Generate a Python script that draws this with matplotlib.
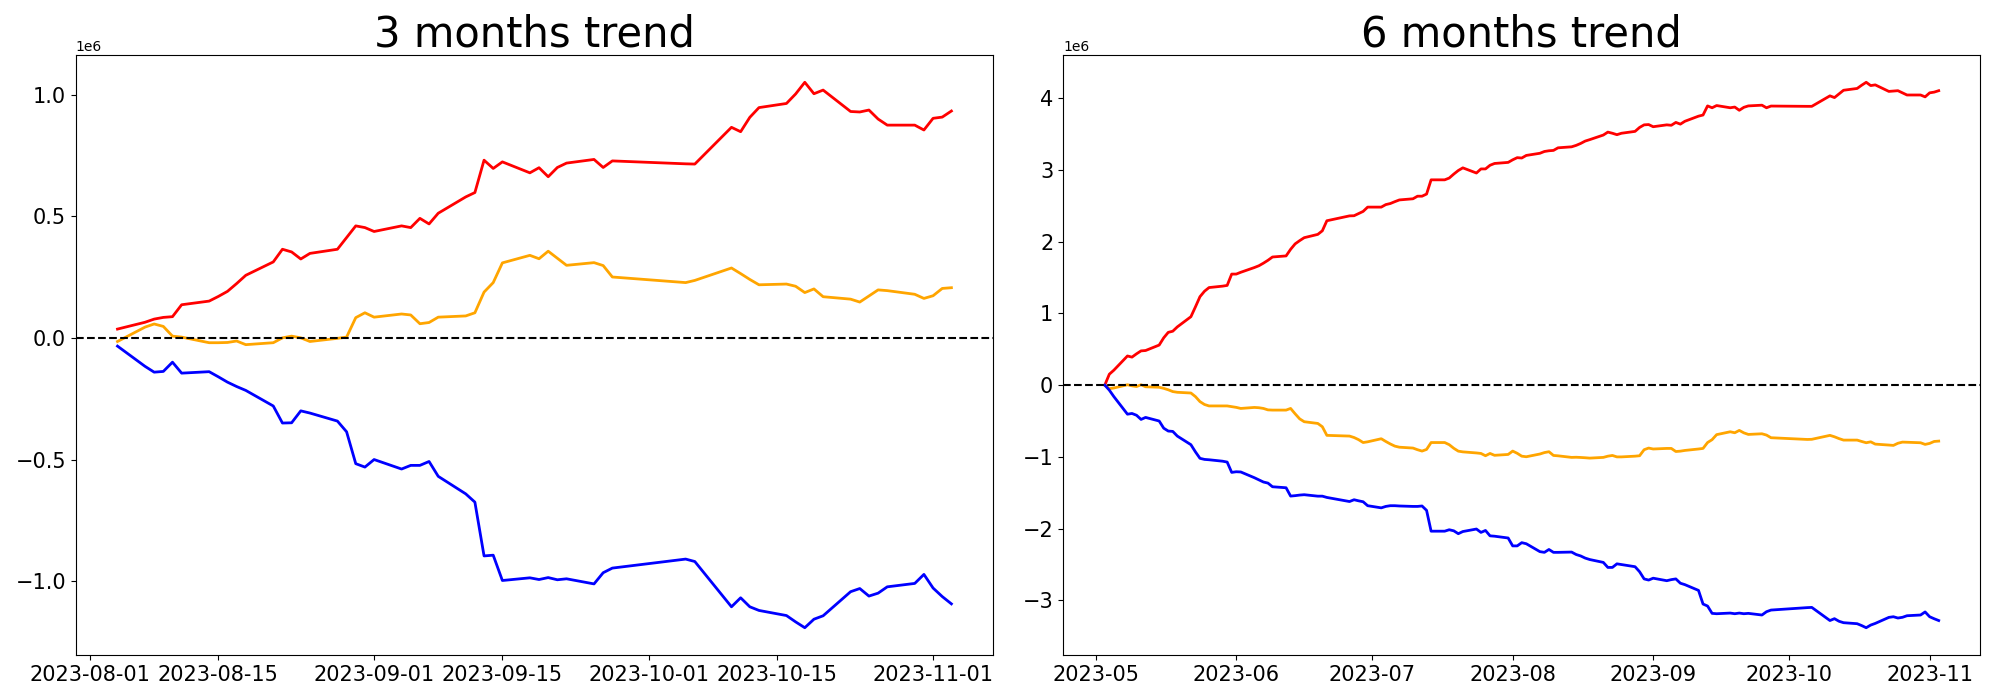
import matplotlib.pyplot as plt
import pandas as pd
import numpy as np

# ===============================
# trading days with missing dates (holiday breaks)
skip_days = pd.to_datetime(['2023-06-22', '2023-06-23', '2023-09-28', '2023-09-29',
                            '2023-10-02', '2023-10-03', '2023-10-04', '2023-10-09'])
dates_3m = pd.bdate_range('2023-08-04', '2023-11-03').drop(skip_days, errors='ignore')
dates_6m = pd.bdate_range('2023-05-03', '2023-11-03').drop(skip_days, errors='ignore')

# values in 1e6
red_3m = [0.037, 0.065, 0.078, 0.085, 0.088, 0.137,
          0.152, 0.171, 0.192, 0.224, 0.258,
          0.313, 0.365, 0.354, 0.325, 0.348,
          0.365, 0.413, 0.461, 0.454,
          0.438,
          0.461, 0.454, 0.492, 0.469, 0.513,
          0.580, 0.598, 0.731, 0.697, 0.724,
          0.679, 0.700, 0.663, 0.701, 0.719,
          0.734, 0.701, 0.728,
          0.716, 0.715,
          0.866, 0.848, 0.907, 0.947,
          0.964, 1.003, 1.051, 1.004, 1.019,
          0.931, 0.929, 0.937, 0.900, 0.875,
          0.875, 0.855,
          0.903, 0.908, 0.933]
orange_3m = [-0.014, 0.045, 0.058, 0.048, 0.008, 0.004,
             -0.019, -0.019, -0.018, -0.012, -0.027,
             -0.019, 0.001, 0.008, 0.001, -0.014,
             -0.001, 0.004, 0.084, 0.104,
             0.086,
             0.099, 0.095, 0.059, 0.064, 0.086,
             0.091, 0.104, 0.189, 0.228, 0.309,
             0.340, 0.326, 0.357, 0.328, 0.299,
             0.310, 0.298, 0.251,
             0.228, 0.237,
             0.288, 0.265, 0.241, 0.219,
             0.222, 0.213, 0.187, 0.202, 0.170,
             0.160, 0.148, 0.173, 0.198, 0.195,
             0.180, 0.163,
             0.174, 0.204, 0.207]
blue_3m = [-0.033, -0.116, -0.140, -0.137, -0.099, -0.144,
           -0.138, -0.159, -0.181, -0.199, -0.215,
           -0.279, -0.349, -0.348, -0.299, -0.308,
           -0.341, -0.385, -0.516, -0.530,
           -0.499,
           -0.538, -0.523, -0.523, -0.507, -0.568,
           -0.640, -0.674, -0.895, -0.892, -0.996,
           -0.985, -0.992, -0.984, -0.993, -0.989,
           -1.010, -0.964, -0.945,
           -0.908, -0.918,
           -1.104, -1.067, -1.104, -1.119,
           -1.140, -1.166, -1.190, -1.155, -1.141,
           -1.042, -1.029, -1.060, -1.048, -1.022,
           -1.008, -0.971,
           -1.027, -1.062, -1.092]

red_6m = [0.0, 0.152, 0.208, 0.406, 0.390, 0.436, 0.477, 0.482, 0.558, 0.659, 0.735,
          0.751, 0.811, 0.953, 1.090, 1.232, 1.308, 1.359, 1.379, 1.389, 1.547,
          1.547, 1.572, 1.638, 1.663, 1.699, 1.739, 1.785, 1.800, 1.892, 1.968,
          2.013, 2.054, 2.100, 2.150, 2.290, 2.358, 2.360, 2.390, 2.420, 2.480,
          2.480, 2.515, 2.530, 2.556, 2.580, 2.596, 2.632, 2.632, 2.662, 2.860,
          2.860, 2.885, 2.940, 2.990, 3.027, 2.955, 3.012, 3.012, 3.063, 3.088, 3.103,
          3.139, 3.169, 3.164, 3.200, 3.230, 3.255, 3.265, 3.270, 3.306, 3.320, 3.340,
          3.367, 3.400, 3.420, 3.484, 3.525, 3.509, 3.489, 3.509, 3.535, 3.590, 3.626, 3.630,
          3.600, 3.626, 3.620, 3.660, 3.636, 3.676, 3.747, 3.763, 3.890, 3.864,
          3.895, 3.864, 3.874, 3.829, 3.870, 3.890, 3.900, 3.864, 3.888,
          3.884, 3.884, 4.030, 4.006, 4.057, 4.108, 4.133, 4.178, 4.219, 4.173,
          4.183, 4.092, 4.097, 4.102, 4.072, 4.042, 4.042, 4.016,
          4.072, 4.082, 4.102]
orange_6m = [0.0, -0.050, -0.040, 0.005, -0.010, -0.020, 0.005, -0.023, -0.030, -0.045, -0.065,
             -0.090, -0.100, -0.110, -0.160, -0.230, -0.270, -0.290, -0.290, -0.290, -0.300,
             -0.310, -0.325, -0.311, -0.315, -0.325, -0.345, -0.348, -0.348, -0.325, -0.400,
             -0.470, -0.510, -0.534, -0.580, -0.700, -0.710, -0.730, -0.760, -0.800, -0.790,
             -0.747, -0.785, -0.820, -0.850, -0.865, -0.877, -0.900, -0.919, -0.896, -0.800,
             -0.800, -0.830, -0.880, -0.920, -0.930, -0.945, -0.952, -0.984, -0.952, -0.978, -0.966,
             -0.919, -0.950, -0.990, -0.998, -0.960, -0.940, -0.928, -0.980, -0.985, -1.007, -1.005,
             -1.008, -1.012, -1.017, -1.007, -0.990, -0.980, -1.000, -1.000, -0.990, -0.984, -0.900, -0.877,
             -0.890, -0.882, -0.882, -0.925, -0.920, -0.910, -0.890, -0.882, -0.800, -0.760,
             -0.690, -0.650, -0.664, -0.631, -0.665, -0.687, -0.678, -0.696, -0.733,
             -0.757, -0.755, -0.700, -0.720, -0.745, -0.766, -0.766, -0.785, -0.803, -0.790,
             -0.822, -0.835, -0.840, -0.810, -0.794, -0.796, -0.803, -0.826,
             -0.812, -0.785, -0.780]
blue_6m = [0.0, -0.070, -0.160, -0.405, -0.395, -0.420, -0.478, -0.450, -0.500, -0.600, -0.640,
           -0.645, -0.710, -0.830, -0.930, -1.020, -1.035, -1.040, -1.060, -1.072, -1.216,
           -1.207, -1.210, -1.290, -1.320, -1.350, -1.365, -1.416, -1.430, -1.546, -1.540,
           -1.532, -1.527, -1.547, -1.547, -1.565, -1.622, -1.597, -1.612, -1.625, -1.680,
           -1.710, -1.690, -1.680, -1.680, -1.684, -1.690, -1.690, -1.684, -1.745, -2.035,
           -2.035, -2.015, -2.030, -2.070, -2.040, -2.005, -2.052, -2.025, -2.100, -2.105, -2.130,
           -2.240, -2.240, -2.195, -2.210, -2.320, -2.330, -2.290, -2.330, -2.330, -2.326, -2.360,
           -2.380, -2.410, -2.430, -2.470, -2.540, -2.540, -2.490, -2.500, -2.530, -2.600, -2.700, -2.716,
           -2.690, -2.725, -2.710, -2.700, -2.760, -2.780, -2.860, -3.050, -3.078, -3.180,
           -3.185, -3.176, -3.185, -3.176, -3.185, -3.180, -3.203, -3.157, -3.134,
           -3.100, -3.097, -3.280, -3.254, -3.290, -3.310, -3.324, -3.350, -3.380, -3.343,
           -3.320, -3.236, -3.227, -3.245, -3.235, -3.213, -3.203, -3.160,
           -3.227, -3.255, -3.280]

panels = [('3 months trend', dates_3m, red_3m, orange_3m, blue_3m),
          ('6 months trend', dates_6m, red_6m, orange_6m, blue_6m)]

# ===============================
fig, axes = plt.subplots(1, 2, figsize=(20, 7), dpi=100)
fig.subplots_adjust(left=0.0379, right=0.9902, bottom=0.0643, top=0.9214, wspace=0.0763)

for ax, (title, dates, red, orange, blue) in zip(axes, panels):
    ax.plot(dates, np.array(red) * 1e6, color='red', linewidth=2)
    ax.plot(dates, np.array(orange) * 1e6, color='orange', linewidth=2)
    ax.plot(dates, np.array(blue) * 1e6, color='blue', linewidth=2)
    ax.axhline(0, color='black', linestyle='--', linewidth=1.5)
    ax.set_title(title, fontsize=30)
    ax.tick_params(labelsize=15)

plt.savefig('out.png', dpi=100)
